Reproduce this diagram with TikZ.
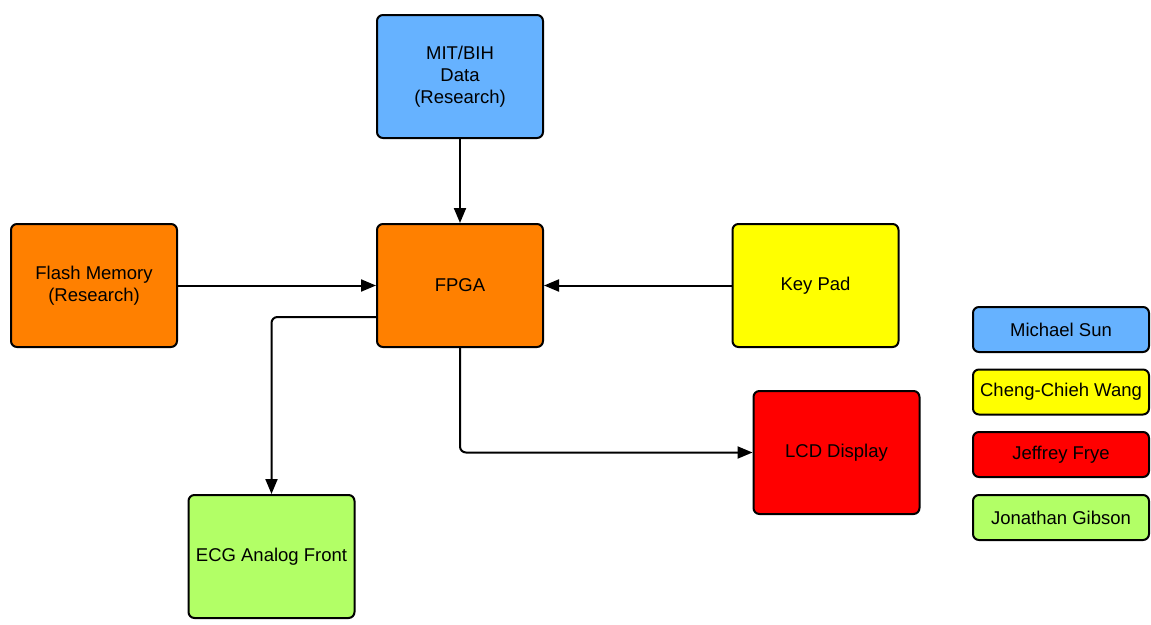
\documentclass[tikz,border=0pt]{standalone}
\usepackage{fontspec}
\setmainfont{Liberation Sans}
\usetikzlibrary{arrows.meta}
\definecolor{cblue}{RGB}{102,178,255}
\definecolor{corange}{RGB}{255,128,0}
\definecolor{cyellow}{RGB}{255,255,0}
\definecolor{cred}{RGB}{255,0,0}
\definecolor{cgreen}{RGB}{178,255,102}
\begin{document}
\begin{tikzpicture}[x=1pt,y=-1pt,
  blk/.style={draw=black,line width=2pt,rounded corners=6pt,minimum width=166pt,minimum height=123pt,inner sep=0pt,align=center,font=\fontsize{18.5}{22}\selectfont},
  leg/.style={draw=black,line width=2pt,rounded corners=6pt,minimum width=176pt,minimum height=45pt,inner sep=0pt,align=center,font=\fontsize{18.5}{22}\selectfont},
  conn/.style={line width=2pt,-{Triangle[length=15pt,width=12pt]}},
  elbow/.style={conn,rounded corners=6pt}]
\useasboundingbox (0,0) rectangle (1151,624);
\node[blk,fill=cblue] (mit) at (460,76.5) {MIT/BIH\\Data\\(Research)};
\node[blk,fill=corange] (flash) at (94,285.5) {Flash Memory\\(Research)};
\node[blk,fill=corange] (fpga) at (460,285.5) {FPGA};
\node[blk,fill=cyellow] (key) at (815.5,285.5) {Key Pad};
\node[blk,fill=cred] (lcd) at (836.5,452.5) {LCD Display};
\node[blk,fill=cgreen] (ecg) at (271.5,556.5) {ECG Analog Front};
\node[leg,fill=cblue] (l1) at (1061,329.5) {Michael Sun};
\node[leg,fill=cyellow] (l2) at (1061,392) {Cheng-Chieh Wang};
\node[leg,fill=cred] (l3) at (1061,454.5) {Jeffrey Frye};
\node[leg,fill=cgreen] (l4) at (1061,517.5) {Jonathan Gibson};
\draw[conn] (mit) -- (fpga);
\draw[conn] (flash) -- (fpga);
\draw[conn] (key) -- (fpga);
\draw[elbow] (fpga.west |- 0,317) -| (ecg.north);
\draw[elbow] (fpga.south) |- (lcd.west);
\end{tikzpicture}
\end{document}
